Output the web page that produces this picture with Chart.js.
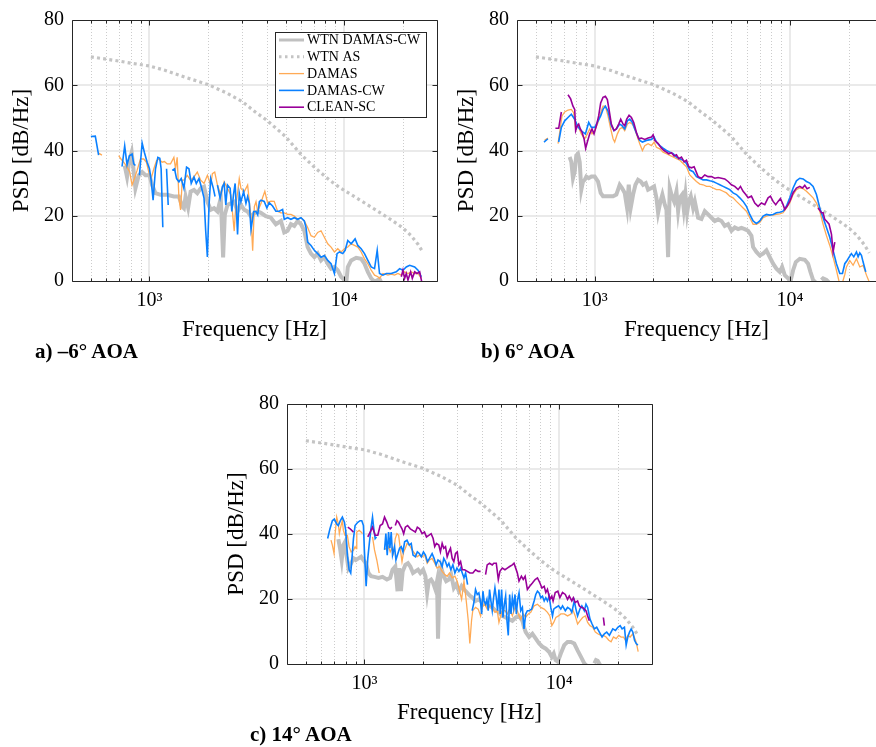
<!DOCTYPE html>
<html>
<head>
<meta charset="utf-8">
<script src="https://cdn.jsdelivr.net/npm/chart.js@4.4.1/dist/chart.umd.min.js"></script>
<style>
  html, body { margin: 0; padding: 0; background: #fff; width: 876px; height: 747px; overflow: hidden; }
  canvas { position: absolute; }
  .tag { position: absolute; font: bold 21px "Liberation Serif", serif; line-height: 20px; color: #000; white-space: nowrap; }
</style>
</head>
<body>
<canvas id="psdA" width="445" height="345" style="left:0;top:0"></canvas>
<canvas id="psdB" width="431" height="345" style="left:445px;top:0"></canvas>
<canvas id="psdC" width="445" height="344" style="left:215px;top:384px"></canvas>
<div class="tag" style="left:35px;top:341px">a) –6° AOA</div>
<div class="tag" style="left:481px;top:341px">b) 6° AOA</div>
<div class="tag" style="left:250px;top:724px">c) 14° AOA</div>
<script>
// axis setup (Hz, dB/Hz)
const HZ_MIN = 400, HZ_MAX = 30000, HZ_MAX_B = 27600;
const DB_MIN = 0, DB_MAX = 80, DB_STEP = 20;
const MAJOR_HZ = [1000, 10000];
const MINOR_HZ = [500, 600, 700, 800, 900, 2000, 3000, 4000, 5000, 6000, 7000, 8000, 9000, 20000];
const GRID_DB = [20, 40, 60];
const X_TICK_LABELS = { 1000: '10³', 10000: '10⁴' };
const SERIES_NAMES = ['WTN DAMAS-CW', 'WTN AS', 'DAMAS', 'DAMAS-CW', 'CLEAN-SC'];

// [frequency Hz, PSD dB/Hz]; null breaks the line
const wtnAs = [[500,68.7],[600,68.0],[700,67.4],[800,66.8],[1000,65.9],[1200,64.6],[1500,62.6],[2000,60.2],[2500,57.6],[3000,55.0],[3500,51.8],[4000,49.3],[5000,44.3],[6000,38.8],[7000,35.0],[8000,32.0],[9000,29.6],[10000,27.8],[12000,24.9],[14000,22.4],[16000,20.2],[18000,18.2],[20000,16.3],[22000,14.0],[24000,11.2],[25500,8.6]];

// a) -6 deg
const aWtnCw = [[746,35.4],[767,31.9],[789,37.0],[810,39.4],[825,35.0],[847,28.4],[881,32.4],[917,33.4],[954,32.4],[1000,32.4],[1032,29.4],[1074,26.9],[1139,26.4],[1233,26.4],[1335,25.9],[1417,25.9],[1474,22.8],[1503,22.3],[1533,25.9],[1580,22.5],[1627,27.4],[1693,27.9],[1761,26.9],[1833,28.4],[1907,28.9],[1984,24.3],[2064,21.8],[2148,22.3],[2235,21.3],[2325,25.4],[2390,7.2],[2438,20.3],[2517,23.3],[2619,23.8],[2725,24.3],[2835,21.3],[2950,23.3],[3070,21.8],[3194,21.3],[3324,19.8],[3458,20.8],[3598,21.3],[3734,20.9],[3960,19.9],[4204,19.4],[4460,17.4],[4734,18.4],[4925,14.9],[5124,15.4],[5330,17.4],[5545,16.9],[5769,18.4],[6002,17.4],[6244,15.4],[6496,10.4],[6758,8.4],[7031,7.3],[7315,8.4],[7610,6.3],[7917,7.3],[8237,5.3],[8569,3.8],[8915,4.3],[9275,3.3],[9649,1.3],[10038,0.3],[10240,-1.0],[10443,4.3],[10864,6.3],[11530,7.1],[12233,6.8],[12726,5.3],[13240,2.8],[13774,0.8],[14330,-0.2],[15200,0.6],[15820,-1.5]];
const aDamas = [[548,39.2],[570,38.6],null,[695,38.4],[714,37.4],[737,36.4],[767,34.9],[792,33.4],[814,29.4],[837,31.4],[864,33.9],[899,37.4],[935,37.4],[965,36.4],[992,33.4],[1020,31.4],[1053,34.4],[1087,36.9],[1117,37.4],[1162,36.4],[1195,36.6],[1233,35.9],[1283,35.9],[1335,37.9],[1361,34.4],[1388,37.9],[1417,25.4],[1445,21.8],[1474,30.9],[1503,30.9],[1564,32.4],[1627,30.9],[1693,31.9],[1761,33.4],[1833,30.9],[1907,29.9],[1984,32.4],[2064,29.4],[2105,32.9],[2164,33.4],[2235,29.4],[2325,26.4],[2419,30.4],[2517,28.4],[2619,26.4],[2725,15.3],[2779,23.5],[2835,26.9],[2893,31.4],[2950,28.4],[3070,27.4],[3194,29.4],[3324,19.4],[3390,9.3],[3458,22.8],[3527,24.3],[3598,21.3],[3743,23.8],[3810,25.5],[3915,27.5],[4041,24.0],[4204,24.5],[4374,24.4],[4550,21.4],[4734,20.9],[4925,20.9],[5124,20.4],[5330,20.4],[5545,19.9],[5769,18.9],[6002,19.4],[6244,18.4],[6496,16.4],[6758,13.9],[7031,13.4],[7315,14.9],[7610,15.4],[7917,13.4],[8237,11.4],[8569,10.4],[8915,8.9],[9275,9.9],[9649,8.9],[10038,9.9],[10443,10.4],[10864,11.4],[11302,10.9],[11758,10.4],[12233,8.9],[12726,6.8],[13240,5.3],[13774,3.3],[14330,1.8],[14908,1.3],[15200,0.8],[15820,2.3],[16786,1.8],[17463,2.1],[18168,1.8],[18901,2.3],[19663,1.8],[20457,2.8],[21282,2.3],[22141,2.8],[23034,2.3],[23964,2.3],[24931,0.8]];
const aDamasCw = [[500,44.3],[527,44.4],[548,38.6],null,[723,35.1],[746,41.4],[767,35.6],[789,38.4],[814,38.9],[830,35.9],[847,35.4],null,[888,32.4],[917,42.3],[942,39.4],[973,36.4],[1000,34.4],[1020,30.9],[1044,24.8],[1074,34.4],[1104,37.9],[1130,37.6],[1148,34.4],[1171,16.5],null,[1224,34.4],[1248,23.3],null,[1309,33.9],[1345,34.4],[1378,31.4],[1417,30.4],[1456,31.4],[1503,28.4],[1551,34.9],[1595,34.4],[1639,29.9],[1693,31.9],[1740,29.9],[1796,31.4],[1846,28.9],[1907,25.4],[1945,15.3],[1984,7.4],[2023,23.3],[2064,31.4],[2129,28.4],[2172,25.9],null,[2235,29.4],[2306,25.4],[2371,28.9],[2419,29.9],[2467,23.3],[2517,29.4],[2597,28.4],[2649,21.3],[2701,26.4],[2755,29.9],[2835,14.3],[2893,26.9],[2950,24.3],[3046,27.4],[3131,23.8],[3194,25.9],[3258,23.8],[3324,15.8],[3430,21.3],[3527,21.3],[3598,20.3],[3670,24.3],[3743,24.8],[3885,24.4],[4010,22.4],[4120,24.0],[4290,23.0],[4460,21.4],[4640,21.4],[4830,21.9],[4925,18.9],[5124,19.4],[5330,18.9],[5545,19.4],[5769,18.9],[6002,19.4],[6244,18.4],[6370,16.4],[6496,11.9],[6758,10.9],[7031,9.4],[7315,8.4],[7610,7.3],[7917,7.8],[8237,6.3],[8569,5.3],[8915,2.3],[9200,8.4],[9460,8.9],[9840,8.4],[10120,9.4],[10443,12.4],[10864,11.4],[11390,12.9],[11758,10.9],[12233,9.9],[12726,8.4],[13240,6.3],[13774,4.3],[14330,3.8],[14790,9.4],[15200,2.3],[15820,1.8],[16460,2.3],[17463,2.3],[18530,2.8],[19280,3.8],[20050,3.3],[20860,4.3],[21710,4.8],[23034,4.3],[23964,3.3],[24931,1.3]];
const aCleanSc = [[19663,1.3],[20050,3.3],[20457,0.8],[20860,2.3],[21282,0.3],[21960,2.8],[22400,0.8],[23034,2.8],[23680,2.3],[24440,2.8],[25030,-0.2]];

// b) 6 deg
const bWtnCw = [[744,38.0],[759,36.5],[774,31.5],[790,33.5],[805,38.5],[821,39.0],[838,36.5],[854,28.0],[871,30.5],[889,31.0],[906,32.0],[932,31.5],[962,32.0],[1000,32.0],[1040,30.5],[1073,27.0],[1103,26.0],[1170,26.0],[1242,26.0],[1291,26.5],[1343,29.5],[1380,28.5],[1425,27.0],[1465,22.4],[1494,29.5],[1529,22.4],[1573,26.5],[1617,29.5],[1668,31.0],[1722,30.5],[1770,29.5],[1827,30.0],[1877,28.0],[1953,28.5],[2015,29.0],[2071,25.5],[2113,20.9],[2172,24.4],[2222,26.5],[2286,23.4],[2331,21.9],[2377,7.3],[2424,28.5],[2473,26.5],[2552,24.4],[2623,27.5],[2675,21.4],[2729,25.5],[2805,26.5],[2860,22.0],[2917,26.5],[2974,20.9],[3033,24.4],[3106,26.0],[3193,22.4],[3257,24.4],[3386,19.4],[3522,19.0],[3664,21.4],[3810,20.4],[3963,19.4],[4122,18.4],[4287,18.9],[4459,18.4],[4637,16.9],[4823,17.4],[5017,15.4],[5218,16.4],[5427,15.9],[5645,16.3],[5871,15.9],[6106,15.4],[6351,13.9],[6477,10.4],[6737,8.9],[7007,7.8],[7288,8.4],[7580,9.4],[7884,7.3],[8200,5.3],[8529,3.8],[8871,2.8],[9120,4.3],[9410,1.8],[9790,0.8],[10060,-0.2],[10382,3.3],[10720,5.8],[11232,6.8],[11915,6.5],[12390,5.3],[12740,2.8],[13145,0.3],[13672,-0.7],null,[14500,0.3],[14791,0.8],[15384,0.3],[16001,-0.7]];
const bDamas = [[554,43.1],[576,43.8],null,[649,42.1],[662,45.6],[680,50.6],[702,51.8],[730,52.4],[759,52.6],[780,51.6],[799,46.6],[821,47.6],[854,45.1],[889,43.6],[917,45.1],[943,46.6],[969,45.1],[1000,46.1],[1040,48.6],[1073,51.6],[1103,53.6],[1134,53.6],[1170,50.6],[1208,46.6],[1242,43.6],[1266,42.6],[1307,45.1],[1343,46.6],[1386,47.1],[1425,46.1],[1471,48.1],[1512,48.6],[1560,48.1],[1604,46.6],[1655,44.1],[1701,42.1],[1756,40.0],[1805,41.5],[1877,42.1],[1953,41.5],[2015,42.6],[2071,41.0],[2155,40.5],[2241,39.5],[2331,39.0],[2424,38.5],[2522,38.0],[2623,37.5],[2729,37.0],[2838,36.0],[2951,35.0],[3070,32.5],[3193,31.5],[3320,30.5],[3453,29.7],[3592,29.5],[3736,29.0],[3886,29.0],[4041,28.5],[4203,28.0],[4372,28.0],[4547,27.5],[4729,27.0],[4919,26.0],[5116,25.5],[5321,24.4],[5535,23.4],[5757,22.4],[5987,21.4],[6227,19.4],[6477,17.4],[6737,17.4],[7007,17.9],[7288,19.4],[7580,19.9],[7884,20.2],[8200,20.2],[8529,20.4],[8871,20.6],[9227,20.9],[9597,22.4],[9982,23.9],[10382,26.5],[10799,28.0],[11232,28.5],[11682,28.3],[12151,27.5],[12638,26.5],[13145,25.5],[13672,23.9],[14220,21.4],[14791,17.4],[15384,13.9],[16001,10.9],[16643,7.3],[17310,3.3],[17860,-0.2],[18580,-0.5],[19100,2.0],[19477,4.3],[20258,6.3],[21071,4.8],[21916,6.8],[22795,4.3],[23709,4.8],[24660,1.8],[25450,-0.2]];
const bDamasCw = [[550,42.6],[576,43.6],null,[654,42.6],[675,47.1],[702,49.1],[730,50.1],[759,51.1],[790,49.6],[815,47.6],[838,46.6],[871,45.6],[896,45.1],[932,48.6],[962,47.1],[1000,47.1],[1032,48.6],[1073,50.6],[1103,52.6],[1134,53.6],[1170,52.1],[1217,47.6],[1256,46.1],[1291,46.6],[1343,48.1],[1380,47.6],[1425,46.6],[1471,49.1],[1512,49.6],[1560,48.6],[1604,46.6],[1655,44.6],[1701,43.1],[1756,42.6],[1841,43.1],[1953,43.4],[2015,44.1],[2071,42.6],[2155,41.5],[2241,40.7],[2331,40.0],[2424,39.5],[2522,39.0],[2623,38.0],[2729,37.5],[2838,37.0],[2951,36.0],[3070,34.0],[3193,33.5],[3320,32.0],[3453,31.5],[3592,31.0],[3736,31.0],[3886,30.7],[4041,30.5],[4203,30.0],[4372,29.5],[4547,29.0],[4729,28.5],[4919,28.0],[5116,27.0],[5321,26.5],[5535,25.5],[5757,24.4],[5987,22.9],[6227,20.4],[6477,18.4],[6737,17.6],[7007,18.4],[7288,19.9],[7580,20.4],[7884,20.2],[8200,20.4],[8529,20.9],[8871,21.1],[9227,21.4],[9597,22.9],[9982,25.5],[10382,28.5],[10799,30.7],[11232,31.5],[11682,31.3],[12151,30.5],[12638,30.0],[13145,29.0],[13672,26.5],[14220,22.4],[14791,19.4],[15384,16.4],[16001,13.4],[16643,9.4],[17310,5.3],[18004,2.3],[18580,2.3],[19100,5.3],[19630,6.3],[20100,7.3],[20650,8.4],[21240,7.4],[21916,8.9],[22350,7.4],[22795,8.6],[23250,7.9],[23709,5.8],[24460,2.8]];
const bCleanSc = [[629,46.8],[654,46.8],[675,51.8],null,[730,57.1],[753,55.8],[774,53.6],[790,52.6],[799,46.1],[815,47.6],[828,48.1],[844,46.6],[861,45.6],[882,43.6],[899,40.7],[917,42.6],[943,45.1],[969,46.6],[992,45.1],[1020,47.6],[1048,50.6],[1073,54.6],[1103,56.3],[1134,56.6],[1161,55.6],[1184,52.6],[1217,48.1],[1256,46.1],[1291,46.6],[1327,48.1],[1359,49.6],[1397,48.1],[1425,47.6],[1459,49.6],[1500,50.8],[1542,50.1],[1585,48.6],[1635,45.6],[1681,43.6],[1735,43.8],[1805,43.4],[1877,43.8],[1953,44.1],[1991,44.8],[2031,43.1],[2113,42.1],[2197,40.7],[2266,40.0],[2331,39.5],[2396,39.0],[2473,39.3],[2552,38.3],[2623,38.7],[2696,37.5],[2783,38.0],[2871,36.5],[2951,37.0],[3033,35.0],[3131,34.7],[3231,35.0],[3386,32.0],[3522,31.5],[3664,32.5],[3810,32.0],[3963,32.0],[4122,31.5],[4287,31.7],[4459,31.5],[4637,31.3],[4823,30.5],[5017,29.5],[5218,29.0],[5427,28.0],[5580,29.0],[5757,27.5],[5940,26.5],[6106,25.5],[6351,26.0],[6606,23.9],[6870,22.9],[7146,23.9],[7432,23.4],[7730,25.5],[7946,26.0],[8200,24.4],[8460,23.4],[8700,24.4],[8940,25.3],[9227,23.4],[9410,21.9],[9670,22.9],[9982,24.4],[10382,27.0],[10799,28.5],[11232,29.0],[11590,28.5],[11915,29.3],[12240,28.3],[12638,28.7],null,[13940,22.4],[14500,20.9],[14791,20.9],[15085,18.9],[15384,18.4],[15870,17.4],[16320,14.4],[16643,8.9],[16975,11.9]];

// c) 14 deg
const cWtnCw = [[734,38.4],[749,35.6],[764,32.0],[779,36.6],[795,37.6],[811,33.0],[827,29.5],[854,31.0],[878,32.5],[902,32.0],[931,32.5],[961,33.0],[988,32.0],[1016,31.0],[1049,28.0],[1082,27.0],[1126,26.8],[1181,26.5],[1238,26.8],[1304,26.0],[1356,26.5],[1394,29.0],[1440,30.0],[1479,22.4],[1509,29.5],[1539,22.4],[1571,28.5],[1622,30.5],[1673,31.0],[1720,30.0],[1776,28.0],[1826,28.5],[1884,29.0],[1936,28.0],[2001,29.0],[2057,27.0],[2099,21.9],[2140,25.5],[2200,26.0],[2253,25.0],[2316,22.9],[2360,25.5],[2387,7.8],[2427,24.0],[2483,29.5],[2555,27.0],[2629,25.5],[2714,26.0],[2789,27.5],[2879,23.4],[2961,24.5],[3056,22.4],[3155,24.0],[3245,23.0],[3374,21.9],[3483,21.0],[3575,20.5],[3720,19.4],[3870,19.9],[4026,18.9],[4189,18.4],[4358,17.9],[4534,17.4],[4717,16.4],[4907,15.9],[5105,14.8],[5312,14.3],[5526,13.8],[5749,13.3],[5982,14.3],[6223,14.8],[6475,13.3],[6600,11.3],[6736,9.8],[7008,8.3],[7291,9.3],[7586,7.8],[7892,6.3],[8211,5.3],[8543,4.7],[8888,3.7],[9170,2.2],[9380,3.2],[9590,1.2],[9850,0.7],[10200,3.2],[10620,5.8],[11050,6.8],[11500,6.8],[11960,6.3],[12440,4.2],[12950,2.2],[13470,0.2],[14010,-0.8],null,[15170,0.2],[15472,1.2],[15780,1.0],[16230,-0.3]];
const cDamas = [[673,38.1],[684,36.6],[698,34.0],[706,39.6],[720,45.2],[734,43.1],[743,40.1],[758,42.6],[770,44.1],[779,41.1],[795,39.6],[817,39.6],[834,36.1],[854,34.5],[878,35.0],[895,36.1],[906,35.5],[913,40.6],[939,41.1],[961,40.6],[977,40.1],null,[1100,39.1],[1126,35.1],[1157,32.0],[1190,28.0],null,[1279,35.6],[1304,35.1],[1330,36.1],[1356,34.5],[1384,35.6],[1411,34.0],[1440,38.6],[1468,40.1],[1498,39.6],[1527,35.6],[1559,31.5],[1590,34.5],[1622,35.6],[1654,37.1],[1699,36.6],[1756,35.1],[1811,34.0],[1862,33.0],[1913,33.5],[1977,33.0],[2041,33.5],[2099,31.0],[2157,32.0],[2226,32.5],[2296,31.0],[2360,29.5],[2427,30.0],[2507,28.5],[2584,27.5],[2660,27.0],[2735,28.0],[2823,26.5],[2915,27.0],[2997,25.5],[3081,22.4],[3155,19.9],[3245,25.5],[3334,19.4],[3414,13.3],[3477,6.3],[3548,13.3],[3600,16.4],[3720,17.4],[3840,16.9],[3950,14.8],[4026,17.4],[4140,18.4],[4272,16.9],[4392,17.9],[4534,17.4],[4680,15.9],[4810,16.4],[4907,12.8],[5005,14.8],[5105,16.4],[5270,16.4],[5417,15.4],[5570,16.9],[5749,14.8],[5935,17.4],[6100,16.4],[6223,14.8],[6350,13.8],[6530,15.4],[6736,14.4],[6950,15.4],[7150,15.9],[7440,17.9],[7740,18.4],[8050,17.4],[8380,16.9],[8710,15.9],[8960,14.8],[9170,11.8],[9380,12.8],[9620,14.3],[9930,14.8],[10200,15.4],[10620,15.4],[11050,14.8],[11500,15.4],[11727,16.9],[12100,14.8],[12440,12.3],[12790,13.3],[13206,14.3],[13640,14.8],[14010,12.8],[14410,11.8],[14872,11.3],[15350,9.8],[15780,9.3],[16420,8.8],[16880,8.8],[17425,8.3],[17990,7.3],[18490,6.8],[19010,8.3],[19623,7.8],[20250,8.8],[20820,8.3],[21410,8.3],[21920,7.3],[22530,8.8],[23170,8.3],[23920,9.3],[24690,7.3],[25180,5.3],[25470,3.8]];
const cDamasCw = [[647,38.6],[665,41.6],[684,44.1],[700,44.6],[720,43.1],[734,42.6],[752,44.1],[770,45.2],[789,43.6],[801,41.1],[817,33.5],[834,29.0],[850,28.0],[860,31.5],[878,38.6],[895,42.6],[924,43.6],[950,44.1],[969,44.1],[988,42.6],[1000,34.5],[1020,23.9],[1040,32.5],[1061,37.6],[1082,42.1],[1100,45.2],[1117,41.6],[1135,38.6],[1153,39.1],null,[1268,35.1],[1288,40.1],[1309,33.5],[1330,40.6],[1351,35.6],[1372,40.6],[1394,33.5],[1428,36.1],[1451,32.0],[1485,34.0],[1515,35.6],[1545,36.1],[1577,34.5],[1608,37.6],[1654,38.1],[1699,36.6],[1739,37.1],[1776,33.5],[1826,33.0],[1869,34.5],[1913,34.0],[1959,33.0],[2009,34.5],[2057,33.5],[2107,31.5],[2157,32.5],[2226,34.0],[2278,32.5],[2334,30.5],[2387,32.0],[2446,31.5],[2507,30.0],[2555,32.5],[2608,31.5],[2660,30.0],[2714,31.0],[2778,29.0],[2846,30.5],[2915,28.0],[2985,29.5],[3056,28.5],[3118,29.5],[3180,28.0],[3245,26.5],[3308,28.0],[3387,24.4],null,[3575,16.4],[3648,18.9],[3720,22.9],[3795,21.4],[3870,21.9],[3950,18.9],[4000,15.4],[4060,22.4],[4120,19.4],[4189,18.4],[4256,19.9],[4324,16.4],[4392,22.9],[4462,19.4],[4534,16.4],[4607,20.4],[4680,23.4],[4755,20.4],[4830,16.4],[4907,22.9],[4986,15.4],[5065,22.9],[5146,14.3],[5230,18.4],[5312,20.9],[5397,13.3],[5480,8.8],[5570,21.4],[5660,15.4],[5749,20.4],[5840,17.4],[5935,21.4],[6030,15.4],[6125,19.9],[6223,21.9],[6350,16.4],[6475,17.4],[6600,10.8],[6736,15.4],[6870,16.4],[7008,16.4],[7230,16.9],[7440,19.4],[7586,21.4],[7740,22.4],[7892,21.9],[8050,20.4],[8211,20.9],[8380,19.4],[8543,20.4],[8710,19.4],[8888,20.9],[9060,17.4],[9247,14.8],[9380,16.9],[9620,17.4],[9930,17.9],[10200,16.9],[10413,17.9],[10760,16.4],[11050,17.4],[11380,16.9],[11620,15.9],[11960,19.4],[12200,16.9],[12440,14.8],[12790,16.9],[13080,17.9],[13470,16.4],[13739,18.4],[14010,17.4],[14410,13.8],[14770,12.3],[15170,10.8],[15600,11.3],[16098,9.8],[16620,8.3],[17080,9.3],[17560,9.8],[18129,8.8],[18861,10.8],[19470,10.3],[20030,11.3],[20580,11.8],[21060,10.8],[21650,11.3],[22099,5.8],[22530,8.3],[22991,9.8],[23450,10.8],[23920,9.8],[24400,7.3],[24887,6.3],[25380,5.8]];
const cCleanSc = [[821,42.1],[844,41.6],[860,41.1],[878,40.6],null,[1040,39.1],[1070,40.6],[1100,42.1],[1135,39.6],[1171,39.6],[1204,42.6],[1238,43.1],[1268,45.2],[1304,43.6],[1330,42.1],[1356,41.6],[1384,42.1],null,[1440,42.6],[1468,44.1],[1498,43.6],[1527,42.6],[1559,41.6],[1590,40.1],[1622,42.1],[1666,42.6],[1720,41.6],[1769,41.1],[1826,40.6],[1869,42.1],[1921,41.6],[1977,40.1],[2033,40.6],[2082,39.1],[2140,39.6],[2200,40.1],[2253,38.6],[2296,36.1],[2342,37.1],[2410,36.6],[2456,34.5],[2507,37.1],[2555,35.6],[2608,36.1],[2660,33.0],[2714,34.5],[2767,35.6],[2823,32.5],[2879,31.5],[2937,34.0],[2997,34.5],[3056,30.5],[3118,31.5],[3180,29.0],[3271,29.0],[3374,28.5],[3483,28.0],[3604,28.0],[3720,29.0],[3839,28.5],[3950,28.5],null,[4189,27.5],[4270,30.5],[4392,31.0],[4534,30.5],[4620,31.0],[4755,31.0],[4870,26.0],[4965,28.5],[5105,29.5],[5270,29.0],[5417,29.5],[5570,30.0],[5749,30.5],[5865,31.0],[5982,29.5],[6100,28.0],[6223,25.5],[6400,27.0],[6540,26.0],[6690,27.0],[6870,22.9],[7060,23.9],[7291,24.9],[7530,26.0],[7740,26.5],[7960,25.0],[8160,23.4],[8380,23.9],[8543,22.0],[8710,23.0],[8960,19.9],[9170,20.9],[9310,19.4],[9550,22.0],[9850,22.4],[10090,20.4],[10413,22.0],[10760,21.4],[11050,19.9],[11271,20.9],[11620,19.4],[11830,20.4],[12100,18.9],[12440,19.4],[12693,17.9],[12950,17.4],[13206,17.4],[13470,16.9],[13739,16.4],[14010,14.8],[14294,13.3],null,[16880,14.3],[17080,11.8]];

const SERIF = '"Liberation Serif", "Times New Roman", serif';
const AXIS_INK = '#262626';

// line styles, same order as SERIES_NAMES
const STYLES = [
  { borderColor: '#c0c0c0', borderWidth: 4, order: 5 },
  { borderColor: '#c4c4c4', borderWidth: 3.2, borderDash: [3, 3.2], order: 4 },
  { borderColor: '#ffaa55', borderWidth: 1.3, order: 3 },
  { borderColor: '#0a80ff', borderWidth: 1.6, order: 2 },
  { borderColor: '#990099', borderWidth: 1.6, order: 1 }
];

function toPoints(pairs) {
  let lastHz = HZ_MIN;
  return pairs.map(p => {
    if (p === null) return { x: lastHz, y: null };
    lastHz = p[0];
    return { x: p[0], y: p[1] };
  });
}

function vline(ctx, x, y0, y1) { ctx.beginPath(); ctx.moveTo(x, y0); ctx.lineTo(x, y1); ctx.stroke(); }
function hline(ctx, y, x0, x1) { ctx.beginPath(); ctx.moveTo(x0, y); ctx.lineTo(x1, y); ctx.stroke(); }

function drawLegend(chart) {
  const { ctx, chartArea: a } = chart;
  const left = a.left + 203, top = a.top + 12, w = 151, h = 85;
  ctx.save();
  ctx.fillStyle = '#fff';
  ctx.fillRect(left, top, w, h);
  ctx.strokeStyle = AXIS_INK;
  ctx.lineWidth = 1;
  ctx.strokeRect(left + 0.5, top + 0.5, w, h);
  ctx.font = '14px ' + SERIF;
  ctx.textBaseline = 'middle';
  chart.data.datasets.forEach((ds, i) => {
    const yy = top + 8 + i * 16.8;
    ctx.strokeStyle = ds.borderColor;
    ctx.lineWidth = Math.min(ds.borderWidth, 3);
    ctx.setLineDash(ds.borderDash ? [2.5, 3.5] : []);
    hline(ctx, yy, left + 4, left + 29);
    ctx.setLineDash([]);
    ctx.fillStyle = '#000';
    ctx.fillText(ds.label, left + 32, yy + 0.5);
  });
  ctx.restore();
}

// MATLAB-like axes: light grid under the data, boxed frame with inward ticks over it
const frame = {
  id: 'frame',
  beforeDatasetsDraw(chart) {
    const { ctx, chartArea: a, scales: { x, y } } = chart;
    ctx.save();
    ctx.lineWidth = 1;
    ctx.strokeStyle = '#cccccc';
    ctx.setLineDash([1, 2]);
    MINOR_HZ.forEach(f => vline(ctx, Math.round(x.getPixelForValue(f)) + 0.5, a.top, a.bottom));
    ctx.setLineDash([]);
    ctx.strokeStyle = '#e3e3e3';
    ctx.lineWidth = 1.5;
    MAJOR_HZ.forEach(f => vline(ctx, Math.round(x.getPixelForValue(f)), a.top, a.bottom));
    GRID_DB.forEach(v => hline(ctx, Math.round(y.getPixelForValue(v)), a.left, a.right));
    ctx.restore();
  },
  afterDatasetsDraw(chart, args, opts) {
    const { ctx, chartArea: a, scales: { x, y } } = chart;
    const L = Math.round(a.left) + 0.5, R = Math.round(a.right) + 0.5;
    const T = Math.round(a.top) + 0.5, B = Math.round(a.bottom) + 0.5;
    ctx.save();
    ctx.strokeStyle = AXIS_INK;
    ctx.lineWidth = 1;
    MINOR_HZ.concat(MAJOR_HZ).forEach(f => {
      const px = Math.round(x.getPixelForValue(f)) + 0.5;
      const len = MAJOR_HZ.includes(f) ? 5 : 3;
      vline(ctx, px, B, B - len);
      vline(ctx, px, T, T + len);
    });
    for (let v = DB_MIN; v <= DB_MAX; v += DB_STEP) {
      const py = Math.round(y.getPixelForValue(v)) + 0.5;
      hline(ctx, py, L, L + 5);
      if (!opts.openRight) hline(ctx, py, R, R - 5);
    }
    hline(ctx, T, L, R);
    hline(ctx, B, L, R);
    vline(ctx, L, T, B);
    if (!opts.openRight) vline(ctx, R, T, B);
    ctx.restore();
    if (opts.legend) drawLegend(chart);
  }
};

function psdChart(id, series, cfg) {
  const datasets = series.map((pairs, i) => Object.assign({
    label: SERIES_NAMES[i],
    data: toPoints(pairs),
    pointRadius: 0,
    tension: 0,
    spanGaps: false,
    fill: false
  }, STYLES[i]));
  return new Chart(document.getElementById(id), {
    type: 'line',
    data: { datasets: datasets },
    options: {
      responsive: false,
      animation: false,
      events: [],
      layout: { padding: { top: 16, right: cfg.padRight, bottom: 0, left: 0 } },
      plugins: {
        legend: { display: false },
        tooltip: { enabled: false },
        frame: { legend: !!cfg.legend, openRight: !!cfg.openRight }
      },
      scales: {
        x: {
          type: 'logarithmic',
          min: HZ_MIN,
          max: cfg.hzMax,
          grid: { display: false, drawTicks: false },
          border: { display: false },
          afterBuildTicks: s => { s.ticks = MAJOR_HZ.map(v => ({ value: v })); },
          afterFit: s => { s.height = 64; },
          ticks: {
            autoSkip: false,
            maxRotation: 0,
            padding: 8,
            color: '#000',
            font: { family: SERIF, size: 20 },
            callback: v => X_TICK_LABELS[v] || ''
          },
          title: {
            display: true,
            text: 'Frequency [Hz]',
            color: '#000',
            font: { family: SERIF, size: 23 },
            padding: { top: 0, bottom: 1 }
          }
        },
        y: {
          min: DB_MIN,
          max: DB_MAX,
          grid: { display: false, drawTicks: false },
          border: { display: false },
          afterFit: s => { s.width = 72; },
          ticks: {
            stepSize: DB_STEP,
            padding: 8,
            color: '#000',
            font: { family: SERIF, size: 20 }
          },
          title: {
            display: true,
            text: 'PSD [dB/Hz]',
            color: '#000',
            font: { family: SERIF, size: 23 },
            padding: { top: 8, bottom: 0 }
          }
        }
      }
    },
    plugins: [frame]
  });
}

psdChart('psdA', [aWtnCw, wtnAs, aDamas, aDamasCw, aCleanSc], { hzMax: HZ_MAX, padRight: 8, legend: true });
psdChart('psdB', [bWtnCw, wtnAs, bDamas, bDamasCw, bCleanSc], { hzMax: HZ_MAX_B, padRight: 0, openRight: true });
psdChart('psdC', [cWtnCw, wtnAs, cDamas, cDamasCw, cCleanSc], { hzMax: HZ_MAX, padRight: 8 });
</script>
</body>
</html>
